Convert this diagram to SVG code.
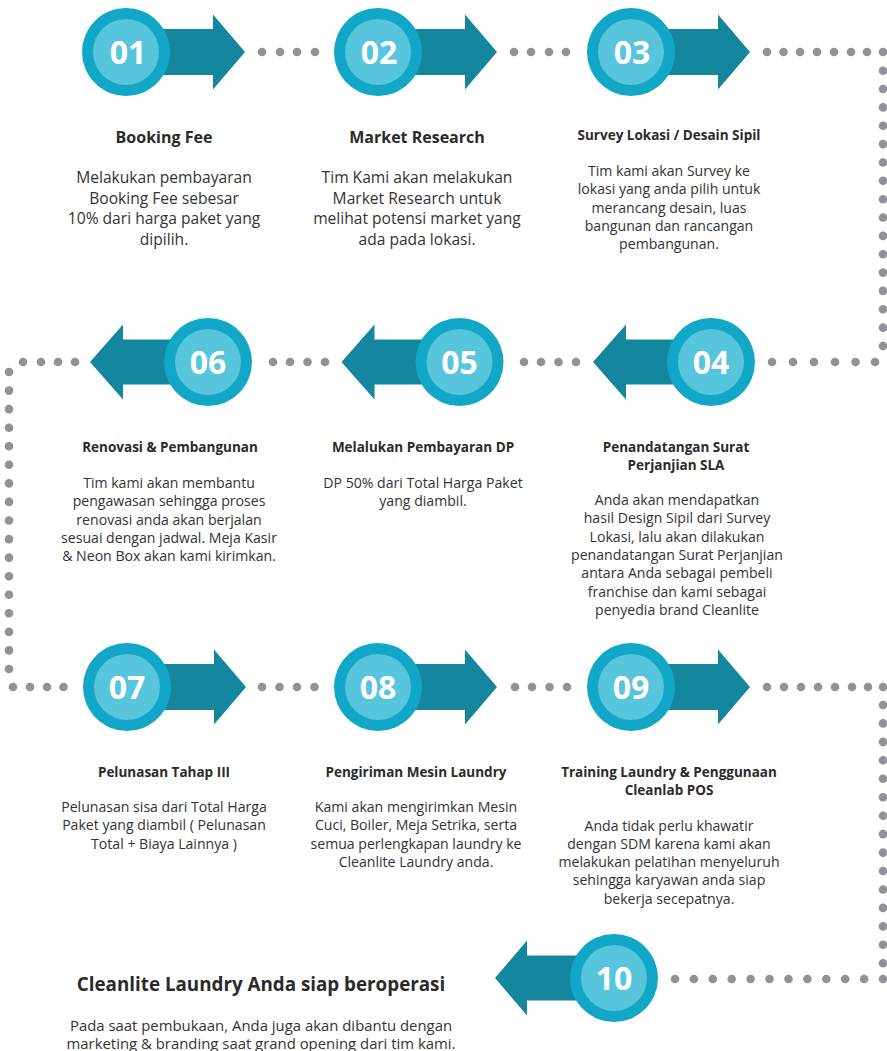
<svg xmlns="http://www.w3.org/2000/svg" width="887" height="1051" viewBox="0 0 887 1051">
<style>
.arr{fill:#14879F}
.ring{fill:#13A7C7}
.core{fill:#57C5DC}
.num{fill:#fff;font-family:"Open Sans","Liberation Sans",sans-serif;font-weight:700;font-size:32px;text-anchor:middle}
.t{fill:#2a2a2a;font-family:"Open Sans","Liberation Sans",sans-serif;font-weight:700;text-anchor:middle}
.b{fill:#333;font-family:"Open Sans","Liberation Sans",sans-serif;text-anchor:middle}
.t15{font-size:16px}
.t13{font-size:13.5px}
.b15{font-size:15.6px}
.b13{font-size:14.1px}
.d{fill:#939198}
</style>
<rect width="887" height="1051" fill="#fff"/>
<g id="connectors">
<g class="d">
<circle cx="262" cy="52" r="4.3"/><circle cx="280" cy="52" r="4.3"/><circle cx="297" cy="52" r="4.3"/><circle cx="315" cy="52" r="4.3"/>
<circle cx="514" cy="52" r="4.3"/><circle cx="531" cy="52" r="4.3"/><circle cx="549" cy="52" r="4.3"/><circle cx="566" cy="52" r="4.3"/>
<circle cx="767" cy="52" r="4.3"/><circle cx="783.5" cy="52" r="4.3"/><circle cx="800" cy="52" r="4.3"/><circle cx="817" cy="52" r="4.3"/><circle cx="834" cy="52" r="4.3"/><circle cx="851" cy="52" r="4.3"/><circle cx="867" cy="52" r="4.3"/><circle cx="883" cy="52" r="4.3"/>
<circle cx="883" cy="70.7" r="4.3"/><circle cx="883" cy="89" r="4.3"/><circle cx="883" cy="107.4" r="4.3"/><circle cx="883" cy="125.8" r="4.3"/><circle cx="883" cy="144.1" r="4.3"/><circle cx="883" cy="162.5" r="4.3"/><circle cx="883" cy="180.8" r="4.3"/><circle cx="883" cy="199.2" r="4.3"/><circle cx="883" cy="217.5" r="4.3"/><circle cx="883" cy="235.9" r="4.3"/><circle cx="883" cy="254.2" r="4.3"/><circle cx="883" cy="272.6" r="4.3"/><circle cx="883" cy="290.9" r="4.3"/><circle cx="883" cy="309.3" r="4.3"/><circle cx="883" cy="327.6" r="4.3"/><circle cx="883" cy="346" r="4.3"/>
<circle cx="772" cy="362" r="4.3"/><circle cx="793" cy="362" r="4.3"/><circle cx="814" cy="362" r="4.3"/><circle cx="835" cy="362" r="4.3"/><circle cx="855.5" cy="362" r="4.3"/><circle cx="875" cy="362" r="4.3"/>
<circle cx="524" cy="362" r="4.3"/><circle cx="541" cy="362" r="4.3"/><circle cx="558.5" cy="362" r="4.3"/><circle cx="576" cy="362" r="4.3"/>
<circle cx="273" cy="362" r="4.3"/><circle cx="290" cy="362" r="4.3"/><circle cx="307.5" cy="362" r="4.3"/><circle cx="325" cy="362" r="4.3"/>
<circle cx="23" cy="362" r="4.3"/><circle cx="41" cy="362" r="4.3"/><circle cx="58" cy="362" r="4.3"/><circle cx="75" cy="362" r="4.3"/>
<circle cx="9" cy="372" r="4.3"/><circle cx="9" cy="390.6" r="4.3"/><circle cx="9" cy="409.1" r="4.3"/><circle cx="9" cy="427.7" r="4.3"/><circle cx="9" cy="446.2" r="4.3"/><circle cx="9" cy="464.8" r="4.3"/><circle cx="9" cy="483.4" r="4.3"/><circle cx="9" cy="501.9" r="4.3"/><circle cx="9" cy="520.5" r="4.3"/><circle cx="9" cy="539.1" r="4.3"/><circle cx="9" cy="557.6" r="4.3"/><circle cx="9" cy="576.2" r="4.3"/><circle cx="9" cy="594.8" r="4.3"/><circle cx="9" cy="613.3" r="4.3"/><circle cx="9" cy="631.9" r="4.3"/><circle cx="9" cy="650.4" r="4.3"/><circle cx="9" cy="669" r="4.3"/>
<circle cx="13" cy="687" r="4.3"/><circle cx="30" cy="687" r="4.3"/><circle cx="47" cy="687" r="4.3"/><circle cx="63.5" cy="687" r="4.3"/>
<circle cx="262" cy="687" r="4.3"/><circle cx="279.5" cy="687" r="4.3"/><circle cx="297" cy="687" r="4.3"/><circle cx="314.5" cy="687" r="4.3"/>
<circle cx="515" cy="687" r="4.3"/><circle cx="532" cy="687" r="4.3"/><circle cx="549.5" cy="687" r="4.3"/><circle cx="567" cy="687" r="4.3"/>
<circle cx="767" cy="687" r="4.3"/><circle cx="784" cy="687" r="4.3"/><circle cx="801" cy="687" r="4.3"/><circle cx="818" cy="687" r="4.3"/><circle cx="835" cy="687" r="4.3"/><circle cx="852" cy="687" r="4.3"/><circle cx="868" cy="687" r="4.3"/><circle cx="883" cy="687" r="4.3"/>
<circle cx="883" cy="705" r="4.3"/><circle cx="883" cy="723.4" r="4.3"/><circle cx="883" cy="741.9" r="4.3"/><circle cx="883" cy="760.3" r="4.3"/><circle cx="883" cy="778.8" r="4.3"/><circle cx="883" cy="797.2" r="4.3"/><circle cx="883" cy="815.7" r="4.3"/><circle cx="883" cy="834.1" r="4.3"/><circle cx="883" cy="852.6" r="4.3"/><circle cx="883" cy="871" r="4.3"/><circle cx="883" cy="889.5" r="4.3"/><circle cx="883" cy="907.9" r="4.3"/><circle cx="883" cy="926.4" r="4.3"/><circle cx="883" cy="944.8" r="4.3"/><circle cx="883" cy="963.3" r="4.3"/>
<circle cx="675" cy="979" r="4.3"/><circle cx="693.9" cy="979" r="4.3"/><circle cx="712.8" cy="979" r="4.3"/><circle cx="731.7" cy="979" r="4.3"/><circle cx="750.6" cy="979" r="4.3"/><circle cx="769.5" cy="979" r="4.3"/><circle cx="788.5" cy="979" r="4.3"/><circle cx="807.4" cy="979" r="4.3"/><circle cx="826.3" cy="979" r="4.3"/><circle cx="845.2" cy="979" r="4.3"/><circle cx="864.1" cy="979" r="4.3"/><circle cx="883" cy="979" r="4.3"/>
</g>
</g>

<g id="node01">
<polygon class="arr" points="126,29 213,29 213,14.5 245,52 213,89.5 213,75 126,75"/>
<circle class="ring" cx="126" cy="52" r="44"/><circle class="core" cx="126" cy="52" r="33"/>
<text class="num" x="128" y="64">01</text>
<text class="t t15" x="164" y="143">Booking Fee</text>
<text class="b b15"><tspan x="164" y="183">Melakukan pembayaran</tspan><tspan x="164" y="203.5">Booking Fee sebesar</tspan><tspan x="164" y="224">10% dari harga paket yang</tspan><tspan x="164" y="244.5">dipilih.</tspan></text>
</g>

<g id="node02">
<polygon class="arr" points="378,29 465,29 465,14.5 497,52 465,89.5 465,75 378,75"/>
<circle class="ring" cx="378" cy="52" r="44"/><circle class="core" cx="378" cy="52" r="33"/>
<text class="num" x="379" y="64">02</text>
<text class="t t15" x="417" y="143">Market Research</text>
<text class="b b15"><tspan x="417" y="183">Tim Kami akan melakukan</tspan><tspan x="417" y="203.5">Market Research untuk</tspan><tspan x="417" y="224">melihat potensi market yang</tspan><tspan x="417" y="244.5">ada pada lokasi.</tspan></text>
</g>

<g id="node03">
<polygon class="arr" points="631,29 718,29 718,14.5 750,52 718,89.5 718,75 631,75"/>
<circle class="ring" cx="631" cy="52" r="44"/><circle class="core" cx="631" cy="52" r="33"/>
<text class="num" x="632" y="64">03</text>
<text class="t t13" x="669" y="140">Survey Lokasi / Desain Sipil</text>
<text class="b b13"><tspan x="669" y="176">Tim kami akan Survey ke</tspan><tspan x="669" y="194.3">lokasi yang anda pilih untuk</tspan><tspan x="669" y="212.6">merancang desain, luas</tspan><tspan x="669" y="230.9">bangunan dan rancangan</tspan><tspan x="669" y="249.2">pembangunan.</tspan></text>
</g>

<g id="node04">
<polygon class="arr" points="711,339.5 626,339.5 626,324.5 593,362 626,399.5 626,384.5 711,384.5"/>
<circle class="ring" cx="711" cy="362" r="44"/><circle class="core" cx="711" cy="362" r="33"/>
<text class="num" x="711" y="374">04</text>
<text class="t t13"><tspan x="676" y="452">Penandatangan Surat</tspan><tspan x="676" y="470">Perjanjian SLA</tspan></text>
<text class="b b13"><tspan x="677" y="505">Anda akan mendapatkan</tspan><tspan x="677" y="523.3">hasil Design Sipil dari Survey</tspan><tspan x="677" y="541.6">Lokasi, lalu akan dilakukan</tspan><tspan x="677" y="559.9">penandatangan Surat Perjanjian</tspan><tspan x="677" y="578.2">antara Anda sebagai pembeli</tspan><tspan x="677" y="596.5">franchise dan kami sebagai</tspan><tspan x="677" y="614.8">penyedia brand Cleanlite</tspan></text>
</g>

<g id="node05">
<polygon class="arr" points="459.5,339.5 374.5,339.5 374.5,324.5 341.5,362 374.5,399.5 374.5,384.5 459.5,384.5"/>
<circle class="ring" cx="459.5" cy="362" r="44"/><circle class="core" cx="459.5" cy="362" r="33"/>
<text class="num" x="459.5" y="374">05</text>
<text class="t t13" x="423" y="452">Melalukan Pembayaran DP</text>
<text class="b b13"><tspan x="423" y="488">DP 50% dari Total Harga Paket</tspan><tspan x="423" y="506.3">yang diambil.</tspan></text>
</g>

<g id="node06">
<polygon class="arr" points="208,339.5 123,339.5 123,324.5 90,362 123,399.5 123,384.5 208,384.5"/>
<circle class="ring" cx="208" cy="362" r="44"/><circle class="core" cx="208" cy="362" r="33"/>
<text class="num" x="208" y="374">06</text>
<text class="t t13" x="170" y="452">Renovasi &amp; Pembangunan</text>
<text class="b b13"><tspan x="169" y="488">Tim kami akan membantu</tspan><tspan x="169" y="506.3">pengawasan sehingga proses</tspan><tspan x="169" y="524.6">renovasi anda akan berjalan</tspan><tspan x="169" y="542.9">sesuai dengan jadwal. Meja Kasir</tspan><tspan x="169" y="561.2">&amp; Neon Box akan kami kirimkan.</tspan></text>
</g>

<g id="node07">
<polygon class="arr" points="127,664 214,664 214,649.5 246,687 214,724.5 214,710 127,710"/>
<circle class="ring" cx="127" cy="687" r="44"/><circle class="core" cx="127" cy="687" r="33"/>
<text class="num" x="127" y="699">07</text>
<text class="t t13" x="164" y="777">Pelunasan Tahap III</text>
<text class="b b13"><tspan x="164" y="812">Pelunasan sisa dari Total Harga</tspan><tspan x="164" y="830.3">Paket yang diambil ( Pelunasan</tspan><tspan x="164" y="848.6">Total + Biaya Lainnya )</tspan></text>
</g>

<g id="node08">
<polygon class="arr" points="378,664 465,664 465,649.5 497,687 465,724.5 465,710 378,710"/>
<circle class="ring" cx="378" cy="687" r="44"/><circle class="core" cx="378" cy="687" r="33"/>
<text class="num" x="378" y="699">08</text>
<text class="t t13" x="416" y="777">Pengiriman Mesin Laundry</text>
<text class="b b13"><tspan x="416" y="812">Kami akan mengirimkan Mesin</tspan><tspan x="416" y="830.3">Cuci, Boiler, Meja Setrika, serta</tspan><tspan x="416" y="848.6">semua perlengkapan laundry ke</tspan><tspan x="416" y="866.9">Cleanlite Laundry anda.</tspan></text>
</g>

<g id="node09">
<polygon class="arr" points="631,664 718,664 718,649.5 750,687 718,724.5 718,710 631,710"/>
<circle class="ring" cx="631" cy="687" r="44"/><circle class="core" cx="631" cy="687" r="33"/>
<text class="num" x="631" y="699">09</text>
<text class="t t13"><tspan x="669" y="777">Training Laundry &amp; Penggunaan</tspan><tspan x="669" y="795">Cleanlab POS</tspan></text>
<text class="b b13"><tspan x="669" y="830.5">Anda tidak perlu khawatir</tspan><tspan x="669" y="848.8">dengan SDM karena kami akan</tspan><tspan x="669" y="867.1">melakukan pelatihan menyeluruh</tspan><tspan x="669" y="885.4">sehingga karyawan anda siap</tspan><tspan x="669" y="903.7">bekerja secepatnya.</tspan></text>
</g>

<g id="node10">
<polygon class="arr" points="614,955.5 527,955.5 527,940.5 495,978 527,1015.5 527,1000.5 614,1000.5"/>
<circle class="ring" cx="614" cy="978" r="44"/><circle class="core" cx="614" cy="978" r="33"/>
<text class="num" x="614" y="990">10</text>
<text class="t" x="261" y="991" font-size="18.8">Cleanlite Laundry Anda siap beroperasi</text>
<text class="b" font-size="14.9"><tspan x="261" y="1031">Pada saat pembukaan, Anda juga akan dibantu dengan</tspan><tspan x="261" y="1049">marketing &amp; branding saat grand opening dari tim kami.</tspan></text>
</g>
</svg>
